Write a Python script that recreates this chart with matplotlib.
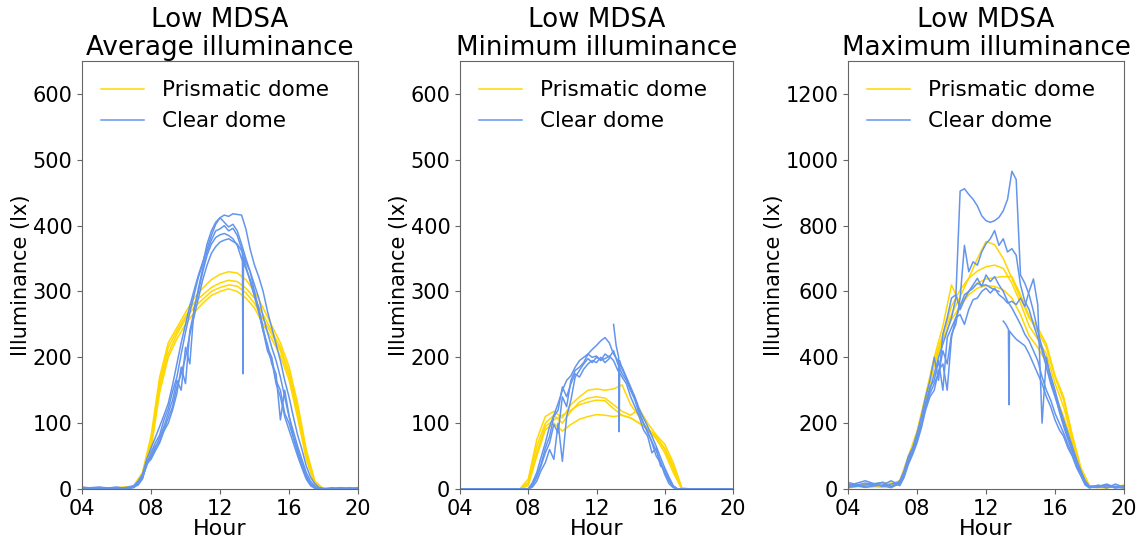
import numpy as np
import matplotlib
matplotlib.use('Agg')
import matplotlib.pyplot as plt

nan = np.nan

# time grids (hour of day)
hours_h = [4, 5, 6, 7, 7.5, 8, 8.5, 9, 9.5, 10, 10.5, 11, 11.5, 12, 12.5, 13, 13.5,
           14, 14.5, 15, 15.5, 16, 16.5, 17, 17.5, 18, 19, 20]
hours_q = [4, 5, 6, 6.5,
           7, 7.25, 7.5, 7.75, 8, 8.25, 8.5, 8.75, 9,
           9.25, 9.5, 9.75, 10, 10.25, 10.5, 10.75, 11,
           11.25, 11.5, 11.75, 12, 12.25, 12.5, 12.75, 13,
           13.25, 13.5, 13.75, 14, 14.25, 14.5, 14.75, 15,
           15.25, 15.5, 15.75, 16, 16.25, 16.5, 16.75, 17,
           17.25, 17.5, 17.75, 18,
           18.5, 19, 19.5, 20]
hours_sp1 = hours_q[:30] + [13.3, 13.33, 13.36] + hours_q[30:]
hours_sp2 = hours_q[:28] + [12.9, 13.0, 13.15, 13.3, 13.33, 13.36] + hours_q[30:]

# ---- average illuminance
avg_prism_1 = [0, 2, 0, 5, 25, 80, 170, 222, 245, 268, 290, 305, 318, 326, 330, 328, 318, 300, 275, 248, 222, 186, 130, 60, 12, 0, 2, 0]
avg_prism_2 = [1, 0, 2, 4, 20, 72, 162, 215, 240, 262, 283, 295, 306, 313, 317, 315, 305, 290, 265, 240, 215, 178, 122, 55, 10, 0, 1, 2]
avg_prism_3 = [0, 1, 0, 3, 18, 66, 155, 206, 235, 258, 276, 288, 300, 306, 310, 308, 298, 282, 258, 235, 210, 172, 115, 50, 8, 1, 0, 1]
avg_prism_4 = [2, 0, 1, 4, 15, 60, 146, 200, 228, 250, 268, 282, 294, 300, 304, 300, 290, 275, 250, 228, 202, 166, 108, 45, 6, 0, 0, 0]

avg_clear_1 = [2, 0, 3, 1,
               5, 12, 22, 45, 62, 78, 95, 112, 130,
               158, 190, 222, 250, 278, 302, 325, 345,
               365, 385, 402, 412, 416, 414, 418, 417,
               416, 395, 364, 340, 322, 300, 270, 245,
               220, 195, 165, 140, 110, 82, 60, 35,
               18, 8, 2, 1,
               0, 2, 0, 1]
avg_clear_2 = [0, 2, 1, 0,
               2, 8, 18, 35, 55, 70, 82, 105, 122,
               148, 170, 205, 238, 268, 295, 322, 342,
               372, 392, 405, 412, 405, 398, 402, 392,
               372, 350, 330, 310, 290, 262, 238, 215,
               195, 170, 140, 110, 88, 65, 45, 25,
               12, 4, 1, 0,
               1, 0, 2, 0]
avg_clear_3 = [3, 0, 1, 2,
               3, 6, 15, 40, 48, 62, 78, 95, 115,
               135, 165, 150, 215, 190, 275, 300, 330,
               355, 372, 382, 386, 388, 385, 380, 370,
               350, 335, 318, 295, 275, 245, 215, 200,
               165, 150, 115, 100, 78, 55, 35, 18,
               8, 2, 1, 0,
               0, 1, 0, 2]
avg_clear_4 = [1, 3, 0, 2,
               4, 10, 20, 42, 50, 65, 72, 90, 108,
               125, 155, 175, 200, 235, 262, 290, 318,
               340, 358, 368, 375, 378, 380, 376, 372,
               362,
               358, 175, 352,
               338, 315, 292, 268, 240, 210, 195,
               160, 140, 110, 90, 70, 50, 32, 15,
               5, 1, 0, 0,
               2, 0, 1, 0]
avg_clear_5 = [1, 0, 2, 0,
               3, 8, 16, 38, 45, 58, 70, 88, 100,
               120, 145, 185, 160, 240, 270, 305, 335,
               360, 378, 392, 395, 400, 392, 396, 385,
               365, 345, 330, 300, 270, 240, 220, 190,
               175, 105, 150, 112, 80, 60, 40, 20,
               8, 2, 0, 0,
               0, 2, 0, 1]

# ---- minimum illuminance
min_prism_1 = [0, 0, 0, 0, 0, 15, 75, 110, 118, 108, 128, 140, 150, 152, 150, 152, 158, 128, 110, 90, 78, 62, 35, 0, 0, 0, 0, 0]
min_prism_2 = [0, 0, 0, 0, 0, 10, 65, 100, 112, 100, 118, 132, 138, 140, 138, 128, 118, 112, 122, 100, 82, 68, 40, 2, 0, 0, 0, 0]
min_prism_3 = [0, 0, 0, 0, 0, 8, 55, 95, 105, 112, 120, 128, 132, 135, 134, 122, 112, 108, 100, 92, 80, 60, 30, 0, 0, 0, 0, 0]
min_prism_4 = [0, 0, 0, 0, 0, 5, 50, 90, 100, 88, 98, 106, 110, 113, 112, 110, 112, 108, 100, 90, 76, 55, 25, 0, 0, 0, 0, 0]

min_clear_1 = [0, 0, 0, 0,
               0, 0, 0, 0, 0, 10, 25, 48, 70,
               95, 112, 130, 150, 165, 172, 185, 195,
               200, 205, 212, 218, 225, 230, 222, 205,
               195, 185, 170, 155, 140, 122, 108, 95,
               80, 65, 48, 32, 18, 5, 0, 0,
               0, 0, 0, 0,
               0, 0, 0, 0]
min_clear_2 = [0, 0, 0, 0,
               0, 0, 0, 0, 0, 5, 18, 35, 55,
               70, 98, 85, 140, 125, 165, 180, 185,
               192, 205, 200, 202, 195, 205, 200, 210,
               190, 175, 165, 150, 135, 115, 100, 85,
               72, 58, 42, 25, 12, 3, 0, 0,
               0, 0, 0, 0,
               0, 0, 0, 0]
min_clear_3 = [0, 0, 0, 0,
               0, 0, 0, 0, 0, 3, 12, 28, 40,
               60, 45, 100, 42, 110, 135, 170, 180,
               190, 198, 192, 200, 196, 198, 202, 195,
               180, 170, 160, 140, 125, 110, 90, 80,
               55, 62, 35, 30, 15, 4, 0, 0,
               0, 0, 0, 0,
               0, 0, 0, 0]
min_clear_4 = [0, 0, 0, 0,
               0, 0, 0, 0, 0, 8, 20, 38, 62,
               80, 110, 120, 155, 140, 160, 175, 170,
               182, 190, 195, 192, 200, 192, 198,
               nan, 250, 218, 200, 87, 195,
               182, 168, 150, 138, 118, 100, 88,
               70, 50, 40, 22, 8, 2, 0, 0,
               0, 0, 0, 0,
               0, 0, 0, 0]

# ---- maximum illuminance
max_prism_1 = [8, 15, 5, 20, 95, 170, 280, 390, 470, 530, 585, 640, 700, 752, 742, 700, 640, 580, 520, 480, 430, 340, 270, 160, 60, 8, 10, 3]
max_prism_2 = [5, 10, 20, 15, 85, 160, 270, 380, 465, 555, 605, 640, 662, 675, 680, 670, 625, 565, 495, 455, 410, 320, 250, 150, 58, 6, 3, 12]
max_prism_3 = [12, 5, 8, 25, 100, 175, 285, 400, 495, 620, 560, 600, 625, 638, 642, 645, 645, 590, 525, 490, 440, 345, 280, 165, 65, 10, 5, 8]
max_prism_4 = [3, 12, 6, 12, 80, 150, 260, 375, 455, 515, 555, 590, 610, 618, 615, 605, 580, 530, 465, 430, 385, 290, 220, 140, 50, 5, 10, 6]

max_clear_1 = [10, 25, 8, 15,
               20, 45, 90, 120, 160, 200, 260, 300, 350,
               400, 440, 480, 520, 580, 905, 912, 895,
               880, 860, 830, 815, 810, 815, 825, 845,
               880, 965, 940, 650, 625, 590, 540, 480,
               430, 390, 345, 300, 250, 210, 170, 130,
               90, 55, 25, 8,
               10, 3, 15, 5]
max_clear_2 = [15, 5, 20, 8,
               15, 40, 80, 110, 150, 190, 250, 290, 320,
               350, 420, 380, 470, 500, 580, 740, 660,
               690, 680, 720, 745, 760, 785, 740, 760,
               720, 730, 710, 620, 570, 545, 500, 460,
               420, 370, 320, 280, 240, 200, 160, 120,
               85, 50, 20, 6,
               5, 12, 4, 10]
max_clear_3 = [5, 12, 20, 6,
               25, 55, 100, 125, 170, 220, 280, 330, 400,
               330, 470, 520, 580, 590, 545, 575, 600,
               620, 640, 615, 650, 630, 645, 620, 600,
               570, 550, 525, 500, 470, 450, 420, 390,
               340, 300, 270, 230, 200, 170, 135, 105,
               70, 42, 15, 5,
               8, 15, 5, 3]
max_clear_4 = [20, 6, 12, 25,
               10, 35, 75, 105, 140, 185, 240, 280, 300,
               360, 380, 300, 460, 520, 555, 590, 600,
               610, 625, 618, 620, 612, 605, 600,
               nan, 510, 500, 485, 256, 480,
               470, 455, 445, 435, 410, 380, 350,
               320, 280, 250, 210, 180, 160, 125, 100,
               65, 40, 12, 3,
               12, 5, 8, 4]
max_clear_5 = [6, 18, 10, 4,
               18, 40, 85, 115, 155, 200, 255, 310, 330,
               390, 300, 460, 490, 520, 530, 500, 545,
               575, 580, 600, 610, 595, 610, 590, 580,
               565, 570, 560, 580, 555, 600, 638, 560,
               200, 400, 330, 290, 235, 190, 150, 115,
               80, 45, 18, 5,
               5, 10, 3, 8]

titles = ['Low MDSA\nAverage illuminance', 'Low MDSA\nMinimum illuminance', 'Low MDSA\nMaximum illuminance']
hour_ticks = [4, 8, 12, 16, 20]
hour_labels = ['04', '08', '12', '16', '20']

prism_color = 'gold'
clear_color = 'cornflowerblue'

panels = [
    ([avg_prism_1, avg_prism_2, avg_prism_3, avg_prism_4],
     [(hours_q, avg_clear_1), (hours_q, avg_clear_2), (hours_q, avg_clear_3),
      (hours_sp1, avg_clear_4), (hours_q, avg_clear_5)],
     650, [0, 100, 200, 300, 400, 500, 600]),
    ([min_prism_1, min_prism_2, min_prism_3, min_prism_4],
     [(hours_q, min_clear_1), (hours_q, min_clear_2), (hours_q, min_clear_3),
      (hours_sp2, min_clear_4)],
     650, [0, 100, 200, 300, 400, 500, 600]),
    ([max_prism_1, max_prism_2, max_prism_3, max_prism_4],
     [(hours_q, max_clear_1), (hours_q, max_clear_2), (hours_q, max_clear_3),
      (hours_sp2, max_clear_4), (hours_q, max_clear_5)],
     1300, [0, 200, 400, 600, 800, 1000, 1200]),
]

fig = plt.figure(figsize=(11.41, 5.44), dpi=100)
lefts = [82, 460, 848]
widths = [276, 273, 276]

for i, (prism, clear, ymax, yticks) in enumerate(panels):
    ax = fig.add_axes([lefts[i] / 1141, 55 / 544, widths[i] / 1141, 428 / 544])
    for k, vals in enumerate(prism):
        ax.plot(hours_h, vals, color=prism_color, lw=1.1,
                label='Prismatic dome' if k == 0 else None)
    for k, (hrs, vals) in enumerate(clear):
        ax.plot(hrs, vals, color=clear_color, lw=1.1,
                label='Clear dome' if k == 0 else None)
    ax.set_xlim(4, 20)
    ax.set_ylim(0, ymax)
    ax.set_xticks(hour_ticks)
    ax.set_xticklabels(hour_labels)
    ax.set_yticks(yticks)
    ax.tick_params(labelsize=15, color='0.4')
    for s in ax.spines.values():
        s.set_color('0.4')
    ax.set_xlabel('Hour', fontsize=16, labelpad=0)
    ax.set_ylabel('Illuminance (lx)', fontsize=15, labelpad=1)
    ax.set_title(titles[i], fontsize=18.8, linespacing=1.1, pad=3)
    ax.legend(loc='upper left', fontsize=15.5, frameon=False)

fig.savefig('out.png', dpi=100)
